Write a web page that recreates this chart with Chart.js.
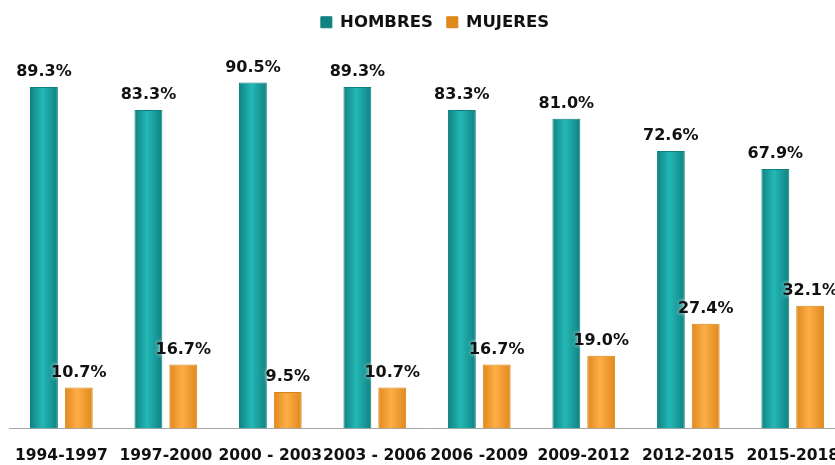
<!DOCTYPE html>
<html>
<head>
<meta charset="utf-8">
<script src="https://cdn.jsdelivr.net/npm/chart.js@4/dist/chart.umd.min.js"></script>
<style>
  html, body { margin: 0; padding: 0; background: #fff; overflow: hidden; }
  #wrap { width: 890px; height: 465px; margin-left: -3px; }
</style>
</head>
<body>
<div id="wrap"><canvas id="myChart" width="890" height="465"></canvas></div>
<script>
// periodos y porcentajes
var categorias = ['1994-1997', '1997-2000', '2000 - 2003', '2003 - 2006', '2006 -2009', '2009-2012', '2012-2015', '2015-2018'];
var hombres = [89.3, 83.3, 90.5, 89.3, 83.3, 81.0, 72.6, 67.9];
var mujeres = [10.7, 16.7, 9.5, 10.7, 16.7, 19.0, 27.4, 32.1];

var FONT = "'DejaVu Sans', Verdana, sans-serif";

// degradado horizontal para dar el efecto de cilindro
function barFill(edge, mid, solid) {
    return function(c) {
        var meta = c.chart.getDatasetMeta(c.datasetIndex);
        var el = meta.data[c.dataIndex];
        if (!el || el.width == null || isNaN(el.x)) return solid;
        var x0 = el.x - el.width / 2, x1 = el.x + el.width / 2;
        var g = c.chart.ctx.createLinearGradient(x0, 0, x1, 0);
        g.addColorStop(0, edge);
        g.addColorStop(0.45, mid);
        g.addColorStop(1, edge);
        return g;
    };
}

var etiquetas = {
    id: 'etiquetas',
    afterDatasetsDraw: function(chart) {
        var ctx = chart.ctx;
        ctx.save();
        ctx.font = 'bold 16px ' + FONT;
        ctx.textAlign = 'center';
        ctx.textBaseline = 'bottom';
        chart.data.datasets.forEach(function(ds, i) {
            chart.getDatasetMeta(i).data.forEach(function(bar, j) {
                var txt = ds.data[j].toFixed(1) + '%';
                ctx.shadowColor = 'rgba(255,255,255,0.9)';
                ctx.shadowBlur = 4;
                ctx.fillStyle = '#111';
                ctx.fillText(txt, bar.x, bar.y - 7);
            });
        });
        ctx.restore();
    }
};

var ctx = document.getElementById('myChart');
var chart = new Chart(ctx, {
    type: 'bar',
    data: {
        labels: categorias,
        datasets: [{
            label: 'HOMBRES',
            data: hombres,
            backgroundColor: barFill('#0F8281', '#24B8B6', '#1AA5A3'),
            borderColor: '#0F807F',
            borderWidth: 1
        }, {
            label: 'MUJERES',
            data: mujeres,
            backgroundColor: barFill('#E0881C', '#FDAE48', '#F7A234'),
            borderColor: '#D98418',
            borderWidth: 1
        }]
    },
    options: {
        responsive: false,
        animation: false,
        devicePixelRatio: 1,
        layout: { padding: { left: 0, right: 14, top: 0, bottom: -18 } },
        datasets: {
            bar: { categoryPercentage: 0.667, barPercentage: 0.8 }
        },
        plugins: {
            legend: {
                position: 'top',
                labels: {
                    boxWidth: 11,
                    boxHeight: 11,
                    padding: 14,
                    color: '#111',
                    font: { family: FONT, size: 16.5, weight: 'bold' }
                }
            },
            tooltip: { enabled: false }
        },
        scales: {
            x: {
                grid: { display: false, drawTicks: false },
                border: { display: true, color: '#A6A6A6', width: 1 },
                ticks: {
                    color: '#111',
                    padding: 18,
                    maxRotation: 0,
                    autoSkip: false,
                    font: { family: FONT, size: 15.5, weight: 'bold' }
                }
            },
            y: {
                // eje invisible a la derecha, solo reserva espacio
                position: 'right',
                min: 0,
                max: 101.5,
                grid: { display: false, drawTicks: false },
                border: { display: false },
                ticks: { display: false },
                afterFit: function(scale) { scale.width = 28; }
            }
        }
    },
    plugins: [etiquetas]
});
chart.update();
</script>
</body>
</html>
